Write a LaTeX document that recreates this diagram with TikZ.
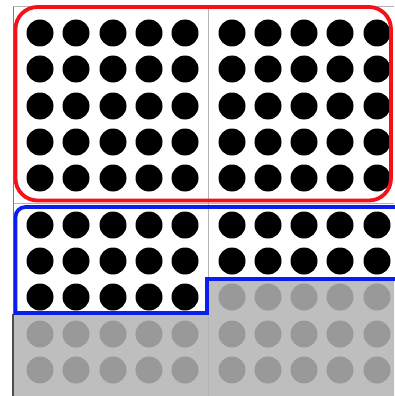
\documentclass[tikz,border=0pt]{standalone}
\usepackage{tikz}

\definecolor{coverfill}{HTML}{BEBEBE}
\definecolor{dotgray}{HTML}{999999}
\definecolor{gridline}{HTML}{B4B4B4}
\definecolor{edgeline}{HTML}{7A7A7A}
\definecolor{ringred}{HTML}{F5101A}
\definecolor{ringblue}{HTML}{0A1EF0}

\begin{document}
\begin{tikzpicture}[x=1pt,y=-1pt,
    bead/.style={fill=black},
    faded/.style={fill=dotgray},
    rule/.style={gridline, line width=1pt}]
    \useasboundingbox[fill=white] (0,0) rectangle (394,396);

    % Covered part
    \fill[coverfill] (13,313) -- (207,313) -- (207,279) -- (394,279) -- (394,396) -- (13,396) -- cycle;

    % Frame of the four blocks
    \draw[rule] (13,7) -- (394,7);
    \draw[rule] (13,203.5) -- (394,203.5);
    \draw[rule] (208.5,7) -- (208.5,396);
    \draw[edgeline, line width=1pt] (13.5,7) -- (13.5,396);
    \draw[black!70, line width=1.2pt] (13,314) -- (13,396);

    % Top blocks: 50 dots
    \foreach \x in {40,76,113,149,185,232,268,304,340,377}
      \foreach \y in {33,69,106,142,178}
        \fill[bead] (\x,\y) circle (13.5);

    % Bottom blocks: two full rows
    \foreach \x in {40,76,113,149,185,232,268,304,340,377}
      \foreach \y in {225,261}
        \fill[bead] (\x,\y) circle (13.5);

    % Third row: five dots showing, five hidden
    \foreach \x in {40,76,113,149,185}
      \fill[bead] (\x,297) circle (13.5);
    \foreach \x in {232,268,304,340,377}
      \fill[faded] (\x,297) circle (13.5);

    % Hidden rows
    \foreach \x in {40,76,113,149,185,232,268,304,340,377}
      \foreach \y in {334,370}
        \fill[faded] (\x,\y) circle (13.5);

    % Rings
    \draw[ringred, line width=3.8pt, rounded corners=22] (15.5,7) rectangle (391,200.5);
    \draw[ringblue, line width=3.8pt] (400,207) [rounded corners=10] -- (15.5,207) -- (15.5,260)
        [sharp corners] -- (15.5,313) -- (207,313) -- (207,279) -- (400,279);
\end{tikzpicture}
\end{document}
